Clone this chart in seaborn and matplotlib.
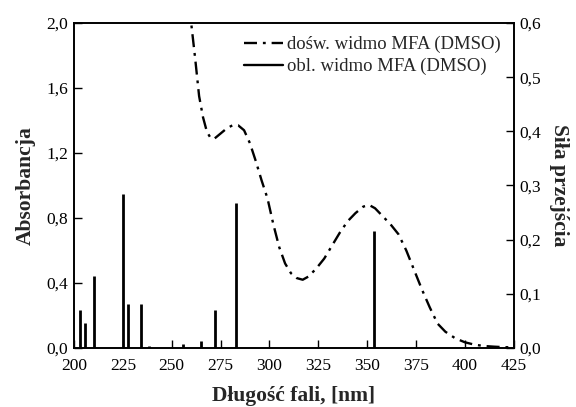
import numpy as np
import pandas as pd
import matplotlib
matplotlib.use("Agg")
import matplotlib.pyplot as plt
from matplotlib.ticker import FuncFormatter
import seaborn as sns

wl_exp = [259, 262, 264, 266, 268, 270, 272, 275, 278, 281, 284, 287, 290, 293, 296, 299,
          302, 305, 308, 311, 314, 317, 320, 324, 328, 332, 336, 340, 344, 348, 351, 354,
          358, 362, 366, 370, 374, 378, 382, 386, 390, 395, 400, 405, 410, 415, 420, 425]
abs_exp = [2.10, 1.78, 1.55, 1.42, 1.33, 1.29, 1.29, 1.32, 1.35, 1.37, 1.37, 1.34, 1.26, 1.15, 1.03, 0.92,
           0.76, 0.62, 0.52, 0.46, 0.43, 0.42, 0.44, 0.49, 0.55, 0.63, 0.71, 0.78, 0.83, 0.87, 0.88, 0.86,
           0.81, 0.76, 0.70, 0.60, 0.48, 0.36, 0.25, 0.15, 0.10, 0.06, 0.035, 0.02, 0.012, 0.008, 0.005, 0.004]

# calculated transitions
wl_calc = [203.0, 205.6, 210.0, 225.2, 227.8, 234.1, 238.3, 255.9, 265.0, 271.9, 282.8, 353.5]
f_calc = [0.070, 0.047, 0.133, 0.284, 0.081, 0.082, 0.003, 0.007, 0.013, 0.070, 0.268, 0.216]

sns.set_style("ticks")
plt.rcParams['font.family'] = ['Liberation Serif', 'DejaVu Serif']

df_exp = pd.DataFrame({"wl": wl_exp, "A": abs_exp})
dashdot = (0, (5.5, 2.5, 1.2, 2.5))

fig = plt.figure(figsize=(5.76, 4.07), dpi=100)
ax = fig.add_axes([0.1285, 0.145, 0.7635, 0.7985])
ax2 = ax.twinx()

sns.lineplot(data=df_exp, x="wl", y="A", ax=ax, color="black", lw=1.7,
             linestyle=dashdot, label="dośw. widmo MFA (DMSO)")
ax2.vlines(wl_calc, 0, f_calc, color="black", lw=2)
ax.plot([], [], color="black", lw=1.7, label="obl. widmo MFA (DMSO)")

ax.set_xlim(200, 425)
ax.set_ylim(0, 2.0)
ax2.set_ylim(0, 0.6)
ax.set_xticks(np.arange(200, 426, 25))
ax.set_yticks(np.arange(0, 2.01, 0.4))
ax2.set_yticks(np.arange(0, 0.61, 0.1))
comma = FuncFormatter(lambda v, p: f"{v:.1f}".replace(".", ","))
ax.yaxis.set_major_formatter(comma)
ax2.yaxis.set_major_formatter(comma)

for a in (ax, ax2):
    a.tick_params(direction="in", length=6, width=1, labelsize=12.5, colors="black", pad=4)
    for s in a.spines.values():
        s.set_linewidth(1.2)
        s.set_color("black")
        s.set_visible(True)
ax.tick_params(axis="x", pad=7)

ax.set_xlabel("Długość fali, [nm]", fontweight="bold", fontsize=15.5, labelpad=9)
ax.set_ylabel("Absorbancja", fontweight="bold", fontsize=15.5, labelpad=8)
ax2.set_ylabel("Siła przejścia", fontweight="bold", fontsize=15.5, rotation=270, labelpad=20)

leg = ax.legend(loc="upper right", frameon=False, fontsize=13.5, handlelength=2.1,
                handletextpad=0.2, borderaxespad=0.3, labelspacing=0.25)

fig.savefig("out.png", dpi=100)
